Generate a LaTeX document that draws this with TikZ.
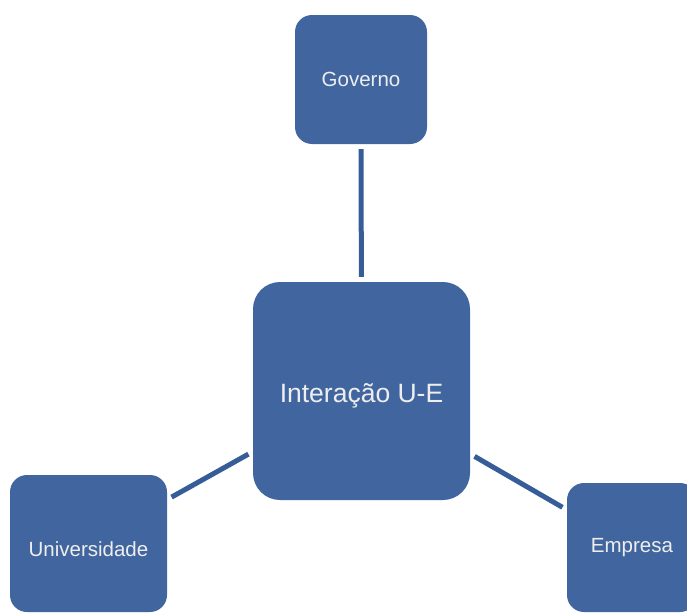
\documentclass[tikz,border=0pt]{standalone}
\usepackage{fontspec}
\setmainfont{Liberation Sans}
\definecolor{boxblue}{HTML}{41669F}
\definecolor{linkblue}{HTML}{365D98}
\definecolor{labelgray}{HTML}{EEEEEE}
% label with its baseline set a given distance below the node centre
\newcommand{\droplabel}[2]{\raisebox{-#1}[0pt][0pt]{#2}}
\begin{document}
\begin{tikzpicture}[x=1pt,y=-1pt,
  actor/.style={fill=boxblue, draw=none, rounded corners=17pt,
    text=labelgray, font=\fontsize{20.5}{24}\selectfont,
    inner sep=0pt, align=center},
  hub/.style={actor, rounded corners=27pt, font=\fontsize{26.5}{30}\selectfont},
  link/.style={draw=linkblue, line width=5pt, shorten <=5pt, shorten >=5pt}]
  \useasboundingbox (0,0) rectangle (687,613);
  \clip (0,0) rectangle (687,613);

  % central node and the three partners
  \node[hub, minimum width=217pt, minimum height=218pt] (ue) at (361.5,391) {\droplabel{11.5pt}{Interação U-E}};
  \node[actor, minimum width=132pt, minimum height=129pt] (gov) at (361,79.5) {Governo};
  \node[actor, minimum width=157pt, minimum height=137pt] (uni) at (88.5,543.5) {\droplabel{13pt}{Universidade}};
  \node[actor, minimum width=130pt, minimum height=129pt] (emp) at (632,547.5) {Empresa};

  % links
  \draw[link] (gov) -- (ue);
  \draw[link] (ue) -- (uni);
  \draw[link] (ue) -- (emp);
\end{tikzpicture}
\end{document}
